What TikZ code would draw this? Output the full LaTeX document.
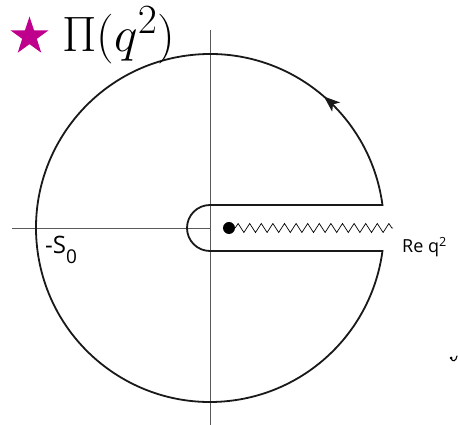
\documentclass[tikz,border=0pt]{standalone}
\usepackage{amsmath}
\usepackage{fontspec}
\setsansfont{Open Sans}
\usetikzlibrary{arrows.meta, shapes.geometric, decorations.pathmorphing, decorations.markings}

\definecolor{starpink}{RGB}{190,0,140}

\begin{document}
\begin{tikzpicture}[x=1pt,y=1pt,
    axis/.style={draw=black!65,line width=0.8pt},
    contour/.style={draw=black!90,line width=1.8pt},
    cut/.style={decorate,decoration={zigzag,amplitude=4.5pt,segment length=11.6pt},line width=0.7pt},
    lbl/.style={font=\sffamily\fontsize{18}{20}\selectfont,inner sep=0pt}]

    \useasboundingbox (-210,-197) rectangle (248,228);

    % axes
    \coordinate (xl) at (-198,0);
    \coordinate (o) at (0,0);
    \coordinate (yt) at (0,198);
    \coordinate (yb) at (0,-197);
    \draw[axis] (xl) -- (o);
    \draw[axis] (yt) -- (yb);

    % contour: big circle, then the keyhole round the cut
    \draw[contour,
      postaction={decorate},
      decoration={markings, mark=at position 126pt with {\arrow[line width=1.8pt]{Stealth[length=16pt,width=12pt,inset=4pt]}}}]
      (7.6:174) arc[start angle=7.6, end angle=352.4, radius=174]
      -- (0,-23) arc[start angle=270, end angle=90, radius=23]
      -- cycle;

    % branch point and cut
    \node[circle, fill=black, inner sep=0pt, minimum size=12pt] (bp) at (19,0) {};
    \coordinate (ce) at (183,0);
    \draw[cut] (bp) -- (ce);

    % labels
    \node[star, star points=5, star point ratio=2.6, fill=starpink, draw=none,
          minimum size=40pt, inner sep=0pt] (st) at (-180.5,191.5) {};
    \node[anchor=west, inner sep=0pt, font=\Huge, scale=2.0] (pi) at (-148,193) {$\Pi(q^2)$};
    \node[lbl, anchor=west, font=\sffamily\fontsize{24}{26}\selectfont] (s0) at (-165,-22)
      {-S\raisebox{-0.45em}{\fontsize{19}{21}\selectfont 0}};
    \node[lbl, anchor=west] (re) at (192,-19) {Re q\textsuperscript{2}};

    % small mark at lower right
    \fill (241,-130) circle (1.5);
    \draw[line width=1.1pt, line cap=round] (241,-130) .. controls (242,-134) and (246,-134) .. (247,-128);

\end{tikzpicture}
\end{document}
